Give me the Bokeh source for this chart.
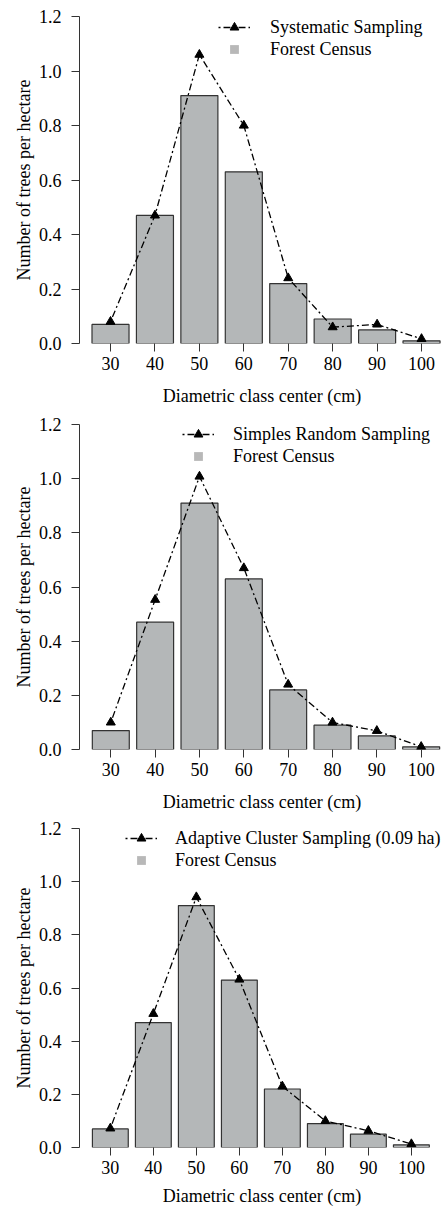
from bokeh.plotting import figure
from bokeh.models import (Range1d, FixedTicker, Legend, LegendItem,
                          ColumnDataSource)
from bokeh.layouts import column
from bokeh.embed import file_html
from bokeh.resources import INLINE

# ---- data ----
classes = [30, 40, 50, 60, 70, 80, 90, 100]
census = [0.07, 0.47, 0.91, 0.63, 0.22, 0.09, 0.05, 0.01]
systematic = [0.08, 0.47, 1.06, 0.80, 0.24, 0.06, 0.07, 0.017]
simple_random = [0.10, 0.553, 1.008, 0.67, 0.24, 0.10, 0.069, 0.01]
adaptive = [0.072, 0.503, 0.942, 0.632, 0.23, 0.10, 0.063, 0.013]
y_ticks = [0.0, 0.2, 0.4, 0.6, 0.8, 1.0, 1.2]
y_tick_labels = ["0.0", "0.2", "0.4", "0.6", "0.8", "1.0", "1.2"]
sample_names = ["Systematic Sampling", "Simples Random Sampling",
                "Adaptive Cluster Sampling (0.09 ha)"]
census_name = "Forest Census"
x_title = "Diametric class center (cm)"
y_title = "Number of trees per hectare"

FONT = "Liberation Serif"
BAR_FILL = "#b4b7b8"
EDGE = "#333333"


def make_panel(sample, name, height, top, bottom, left, xs, xe,
               leg_x, leg_y, standoff, lab_standoff):
    p = figure(width=444, height=height, output_backend="svg",
               toolbar_location=None, x_range=Range1d(xs, xe),
               y_range=Range1d(0, 1.2), min_border_top=top,
               min_border_bottom=bottom, min_border_left=left,
               min_border_right=0)
    p.outline_line_color = None
    p.grid.visible = False
    p.background_fill_color = "white"

    src = ColumnDataSource(dict(x=classes, census=census, sample=sample))
    p.vbar(x="x", top="census", bottom=0, width=10 / 1.2, source=src,
           fill_color=BAR_FILL, line_color=EDGE, line_width=1.2)
    ln = p.line(x="x", y="sample", source=src, line_color="black",
                line_width=1.3, line_dash="2 3 7 3")
    tri = p.scatter(x="x", y="sample", source=src, marker="triangle",
                    size=9, fill_color="black", line_color="black")
    # square swatch for the census legend entry (size 0: invisible in plot)
    sq = p.scatter(x="x", y="census", source=src, marker="square", size=0,
                   fill_color="#b8b8b8", line_color=None)

    leg = Legend(items=[LegendItem(label=name, renderers=[ln, tri]),
                        LegendItem(label=census_name, renderers=[sq])],
                 location=(leg_x, leg_y))
    leg.border_line_color = None
    leg.background_fill_alpha = 0
    leg.padding = 0
    leg.margin = 0
    leg.spacing = 0
    leg.glyph_width = 32
    leg.glyph_height = 22
    leg.label_height = 22
    leg.label_standoff = standoff
    leg.label_text_font = FONT
    leg.label_text_font_size = "18px"
    leg.label_text_color = "black"
    p.add_layout(leg)

    xa = p.xaxis[0]
    xa.ticker = FixedTicker(ticks=classes)
    xa.axis_line_color = None
    xa.major_tick_line_color = EDGE
    xa.major_tick_out = 8
    xa.major_tick_in = 0
    xa.minor_tick_line_color = None
    xa.major_label_standoff = 5
    xa.major_label_text_font = FONT
    xa.major_label_text_font_size = "18px"
    xa.major_label_text_color = "black"
    xa.axis_label = x_title
    xa.axis_label_text_font = FONT
    xa.axis_label_text_font_size = "18px"
    xa.axis_label_text_font_style = "normal"
    xa.axis_label_text_color = "black"
    xa.axis_label_standoff = lab_standoff

    ya = p.yaxis[0]
    ya.ticker = FixedTicker(ticks=y_ticks)
    ya.major_label_overrides = {t: l for t, l in zip(y_ticks, y_tick_labels)}
    ya.axis_line_color = EDGE
    ya.major_tick_line_color = EDGE
    ya.major_tick_out = 8
    ya.major_tick_in = 0
    ya.minor_tick_line_color = None
    ya.major_label_standoff = 10
    ya.major_label_text_font = FONT
    ya.major_label_text_font_size = "18px"
    ya.major_label_text_color = "black"
    ya.axis_label = y_title
    ya.axis_label_text_font = FONT
    ya.axis_label_text_font_size = "18px"
    ya.axis_label_text_font_style = "normal"
    ya.axis_label_text_color = "black"
    ya.axis_label_standoff = 2
    return p


p1 = make_panel(systematic, sample_names[0], 408, 16, 65, 79,
                23.02, 105.17, 139, 283, 20, 13)
p2 = make_panel(simple_random, sample_names[1], 406, 16, 65, 79,
                22.94, 105.26, 103, 282, 19, 13)
p3 = make_panel(adaptive, sample_names[2], 394, 14, 61, 77,
                22.83, 107.7, 46, 276, 18, 9)

layout = column(p1, p2, p3, spacing=0)
open("out.html", "w").write(file_html(layout, INLINE))
